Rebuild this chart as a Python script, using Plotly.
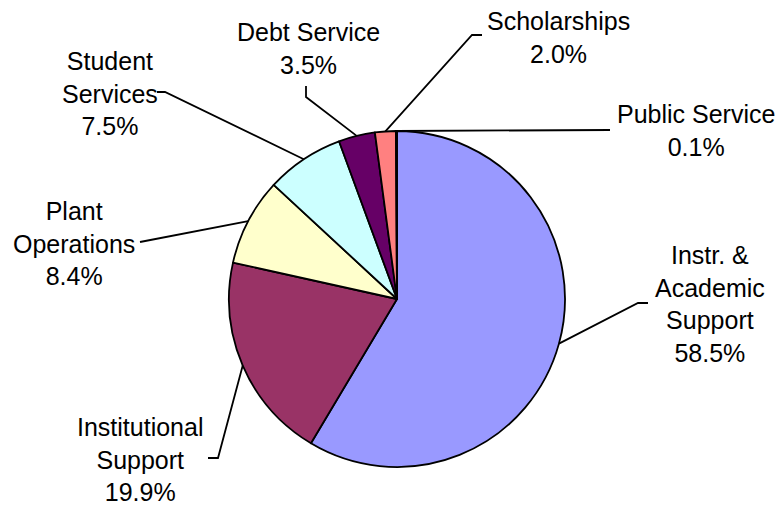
import math
import plotly.graph_objects as go

# ---- data ----
categories = ["Instr. &<br>Academic<br>Support", "Institutional<br>Support", "Plant<br>Operations",
              "Student<br>Services", "Debt Service", "Scholarships", "Public Service"]
values = [58.5, 19.9, 8.4, 7.5, 3.5, 2.0, 0.1]
colors = ["#9999FF", "#993366", "#FFFFCC", "#CCFFFF", "#660066", "#FF8080", "#0066CC"]

# ---- layout constants (window pixels) ----
OFF = 8  # page body margin
W, H = 784 - OFF, 508 - OFF
CX, CY, R = 397, 299, 168
# label text centre, leader knee, leader end (window pixels)
label_pos = [(710, 304), (140, 459), (74, 243), (110, 93), (308, 49), (558, 37), (696, 130)]
knees = [(638, 303), (218, 458), (140, 242), (165, 92), (306, 97), (472, 35), (610, 130)]
ends = [(648, 303), (208, 458), (140, 242), (157, 92), (306, 86), (482, 35), (610, 130)]


def px(x):
    return (x - OFF) / W


def py(y):
    return 1 - (y - OFF) / H


fig = go.Figure(go.Pie(
    labels=categories, values=values, sort=False, direction="clockwise", rotation=0,
    marker=dict(colors=colors, line=dict(color="black", width=1.8)),
    textinfo="none", hoverinfo="label+percent", showlegend=False,
    domain=dict(x=[px(CX - R), px(CX + R)], y=[py(CY + R), py(CY - R)]),
))

total = sum(values)
cum = 0.0
shapes = []
annotations = []
for i, v in enumerate(values):
    mid = (cum + v / 2) / total * 2 * math.pi
    cum += v
    ax = CX + R * math.sin(mid)
    ay = CY - R * math.cos(mid)
    kx, ky = knees[i]
    ex, ey = ends[i]
    path = f"M {px(ax)} {py(ay)} L {px(kx)} {py(ky)} L {px(ex)} {py(ey)}"
    shapes.append(dict(type="path", xref="paper", yref="paper", path=path,
                       line=dict(color="black", width=1.8)))
    lx, ly = label_pos[i]
    annotations.append(dict(
        x=px(lx), y=py(ly), xref="paper", yref="paper", showarrow=False,
        xanchor="center", yanchor="middle", align="center",
        text=f"{categories[i]}<br>{v:.1f}%",
        font=dict(family="Liberation Sans, Arial", size=25, color="black"),
    ))

fig.update_layout(
    width=W, height=H, margin=dict(l=0, r=0, t=0, b=0),
    paper_bgcolor="white", plot_bgcolor="white",
    shapes=shapes, annotations=annotations,
)

fig.write_html("out.html")
